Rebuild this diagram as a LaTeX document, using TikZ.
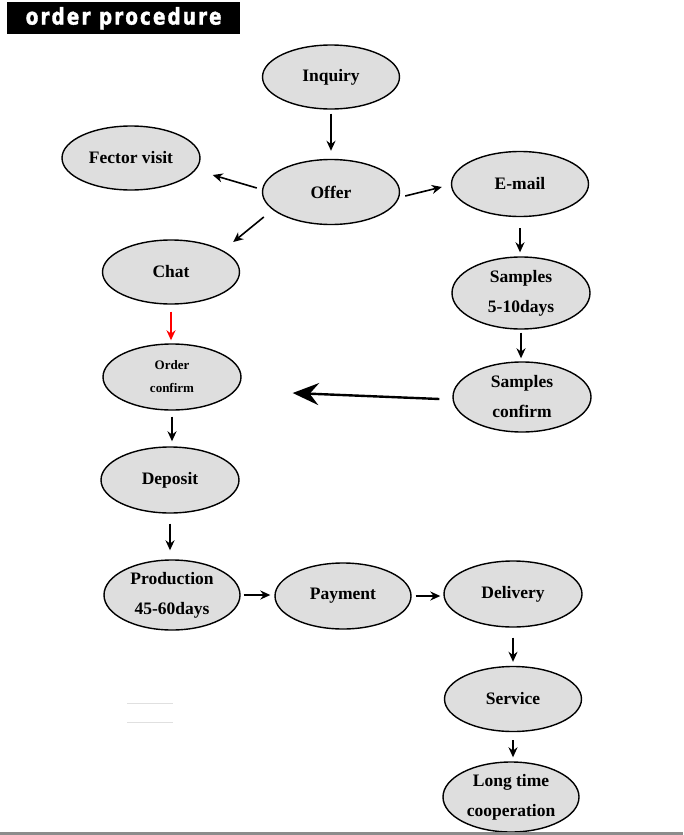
\documentclass[tikz,border=0pt]{standalone}
\usepackage{fontspec}
\setmainfont{Liberation Serif}
\newfontfamily\titlefont{DejaVu Sans}[LetterSpace=9,FakeStretch=0.8,FakeBold=1.5]
\usetikzlibrary{shapes.geometric,arrows.meta}
\definecolor{ellfill}{HTML}{DEDEDE}
\tikzset{
  oval/.style={ellipse,draw=black,line width=1.4pt,fill=ellfill,inner sep=0pt,align=center,
    font=\fontsize{17.5}{30}\selectfont\bfseries},
  arr/.style={line width=1.6pt,-{Stealth[length=10pt,width=9pt]}},
}
\begin{document}
\begin{tikzpicture}[x=1pt,y=-1pt]
\useasboundingbox (0,0) rectangle (683,835);
\fill[white] (0,0) rectangle (683,835);
% title
\node[fill=black,minimum width=233pt,minimum height=32pt,inner sep=0pt,anchor=north west,
  text=white,font=\titlefont\fontsize{23}{23}\selectfont\bfseries] (title) at (7,2) {order procedure};
% nodes
\node[oval,minimum width=137pt,minimum height=64pt] (inq) at (331,77) {Inquiry};
\node[oval,minimum width=137pt,minimum height=65pt] (offer) at (331,192) {Offer};
\node[oval,minimum width=138pt,minimum height=64pt] (fector) at (131,158) {Fector visit};
\node[oval,minimum width=137pt,minimum height=65pt] (email) at (520,184) {E-mail};
\node[oval,minimum width=137pt,minimum height=64pt] (chat) at (171,272) {Chat};
\node[oval,minimum width=138pt,minimum height=72pt] (samp) at (521,293) {Samples\\5-10days};
\node[oval,minimum width=138pt,minimum height=66pt,font=\fontsize{13}{23}\selectfont\bfseries] (order) at (172,377) {Order\\confirm};
\node[oval,minimum width=138pt,minimum height=70pt] (sconf) at (522,397) {Samples\\confirm};
\node[oval,minimum width=138pt,minimum height=66pt] (dep) at (170,480) {Deposit};
\node[oval,minimum width=136pt,minimum height=70pt] (prod) at (172,595) {Production\\45-60days};
\node[oval,minimum width=136pt,minimum height=66pt] (pay) at (343,596) {Payment};
\node[oval,minimum width=138pt,minimum height=66pt] (deli) at (513,594) {Delivery};
\node[oval,minimum width=137pt,minimum height=65pt] (serv) at (513,699) {Service};
\node[oval,minimum width=136pt,minimum height=70pt] (long) at (511,797) {Long time\\cooperation};
% connectors
\draw[arr,shorten <=4pt,shorten >=8pt] (inq.south) -- (inq.south |- offer.north);
\draw[arr] ([shift={(-5,-4)}]offer.west) -- ([shift={(12,17)}]fector.east);
\draw[arr] ([shift={(2,25)}]offer.west) -- ([shift={(-7,-30)}]chat.east);
\draw[arr] ([shift={(5,4)}]offer.east) -- ([shift={(-9,3)}]email.west);
\draw[arr,shorten <=11pt,shorten >=4pt] (email.south) -- (email.south |- samp.north);
\draw[arr,red,shorten <=7pt,shorten >=3pt] (chat.south) -- (chat.south |- order.north);
\draw[arr,shorten <=3pt,shorten >=3pt] (samp.south) -- (samp.south |- sconf.north);
\draw[line width=2.4pt,-{Stealth[length=26pt,width=22pt,inset=9pt]}] ([shift={(-13,2)}]sconf.west) -- ([shift={(51,16)}]order.east);
\draw[arr,shorten <=6pt,shorten >=5pt] (order.south) -- (order.south |- dep.north);
\draw[arr,shorten <=10pt,shorten >=9pt] (dep.south) -- (dep.south |- prod.north);
\draw[arr,shorten <=3pt,shorten >=4pt] (prod.east) -- (prod.east -| pay.west);
\draw[arr,shorten <=4pt,shorten >=3pt] (pay.east) -- (pay.east -| deli.west);
\draw[arr,shorten <=10pt,shorten >=4pt] (deli.south) -- (deli.south |- serv.north);
\draw[arr,shorten <=8pt,shorten >=4pt] (serv.south) -- (serv.south |- long.north);
% faint marks
\draw[black!12,line width=0.8pt] (127,703) -- (173,703);
\draw[black!12,line width=0.8pt] (127,722) -- (173,722);
% bottom band
\draw[black!45,line width=3pt] (0,833.5) -- (683,833.5);
\end{tikzpicture}
\end{document}
